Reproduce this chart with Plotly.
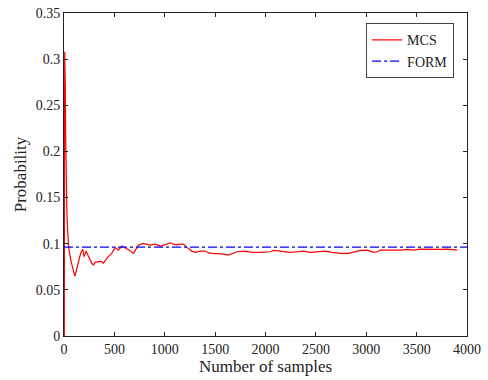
import plotly.graph_objects as go

# MCS running estimate
mcs_n = [1, 3, 5, 7, 9, 11, 13, 16, 19, 22, 25, 28, 31, 35, 40, 45, 52, 60, 68, 77, 90, 100, 109,
         120, 132, 150, 166, 186, 199, 210, 219, 240, 258, 275, 291, 310, 325, 360, 391, 408, 425,
         440, 474, 507, 540, 574, 600, 623, 660, 689, 739, 788, 820, 855, 905, 954, 1021, 1055, 1086,
         1120, 1150, 1186, 1220, 1269, 1302, 1352, 1402, 1434, 1470, 1518, 1583, 1633, 1667, 1717,
         1799, 1866, 1948, 2015, 2048, 2080, 2130, 2197, 2246, 2313, 2379, 2445, 2512, 2594, 2661,
         2744, 2826, 2892, 2942, 3009, 3074, 3108, 3141, 3207, 3273, 3340, 3406, 3472, 3539, 3605,
         3671, 3737, 3804, 3870, 3903]
mcs_p = [0.0, 0.0, 0.20, 0.308, 0.29, 0.25, 0.27, 0.22, 0.18, 0.15, 0.165, 0.14, 0.125, 0.112, 0.105,
         0.098, 0.092, 0.085, 0.082, 0.078, 0.070, 0.068, 0.065, 0.070, 0.077, 0.082, 0.090, 0.094,
         0.086, 0.089, 0.092, 0.087, 0.082, 0.079, 0.077, 0.080, 0.080, 0.081, 0.079, 0.082, 0.084,
         0.086, 0.0895, 0.096, 0.093, 0.0975, 0.096, 0.095, 0.092, 0.0895, 0.0985, 0.1003, 0.0995,
         0.0985, 0.0996, 0.0975, 0.0996, 0.101, 0.0996, 0.0988, 0.0995, 0.0996, 0.096, 0.092, 0.0906,
         0.092, 0.092, 0.090, 0.0895, 0.0895, 0.0888, 0.0877, 0.0895, 0.0913, 0.092, 0.0906, 0.0906,
         0.0909, 0.0913, 0.0928, 0.092, 0.0913, 0.0906, 0.0913, 0.092, 0.0906, 0.0913, 0.092, 0.0906,
         0.0895, 0.0895, 0.0913, 0.0928, 0.093, 0.0906, 0.0913, 0.0931, 0.0931, 0.0928, 0.0931,
         0.0938, 0.0931, 0.0942, 0.0938, 0.0942, 0.0938, 0.0942, 0.0938, 0.093]

form_n = [0, 4000]
form_p = [0.0962, 0.0962]

x_ticks = [0, 500, 1000, 1500, 2000, 2500, 3000, 3500, 4000]
y_ticks = [0, 0.05, 0.1, 0.15, 0.2, 0.25, 0.3, 0.35]
y_labels = ["0", "0.05", "0.1", "0.15", "0.2", "0.25", "0.3", "0.35"]

FONT = "Liberation Serif"

fig = go.Figure()
fig.add_trace(go.Scatter(x=mcs_n, y=mcs_p, mode="lines", name="MCS",
                         line=dict(color="#ff0000", width=1.2)))
fig.add_trace(go.Scatter(x=form_n, y=form_p, mode="lines", name="FORM",
                         line=dict(color="#0000ff", width=1.2, dash="dashdot")))

axis_common = dict(showline=True, linecolor="#222", linewidth=1, mirror="ticks",
                   ticks="inside", ticklen=4, tickcolor="#222", showgrid=False,
                   zeroline=False, automargin=False,
                   tickfont=dict(family=FONT, size=14, color="#222"))

fig.update_layout(
    width=488, height=380,
    margin=dict(l=64, r=21, t=13, b=44),
    paper_bgcolor="white", plot_bgcolor="white",
    font=dict(family=FONT, color="#222"),
    xaxis=dict(range=[0, 4000], tickvals=x_ticks,
               ticktext=[str(v) for v in x_ticks],
               title=dict(text="Number of samples", font=dict(family=FONT, size=17), standoff=0),
               **axis_common),
    yaxis=dict(range=[0, 0.35], tickvals=y_ticks, ticktext=y_labels,
               title=dict(text="Probability", font=dict(family=FONT, size=17), standoff=4),
               **axis_common),
    legend=dict(x=0.968, y=0.968, xanchor="right", yanchor="top",
                bgcolor="white", bordercolor="#444", borderwidth=1,
                font=dict(family=FONT, size=14, color="#222"),
                tracegroupgap=0, itemwidth=30),
    showlegend=True,
)

fig.write_html("out.html", config={"displayModeBar": False},
               post_script="document.body.style.margin='0';document.body.style.overflow='hidden';")
